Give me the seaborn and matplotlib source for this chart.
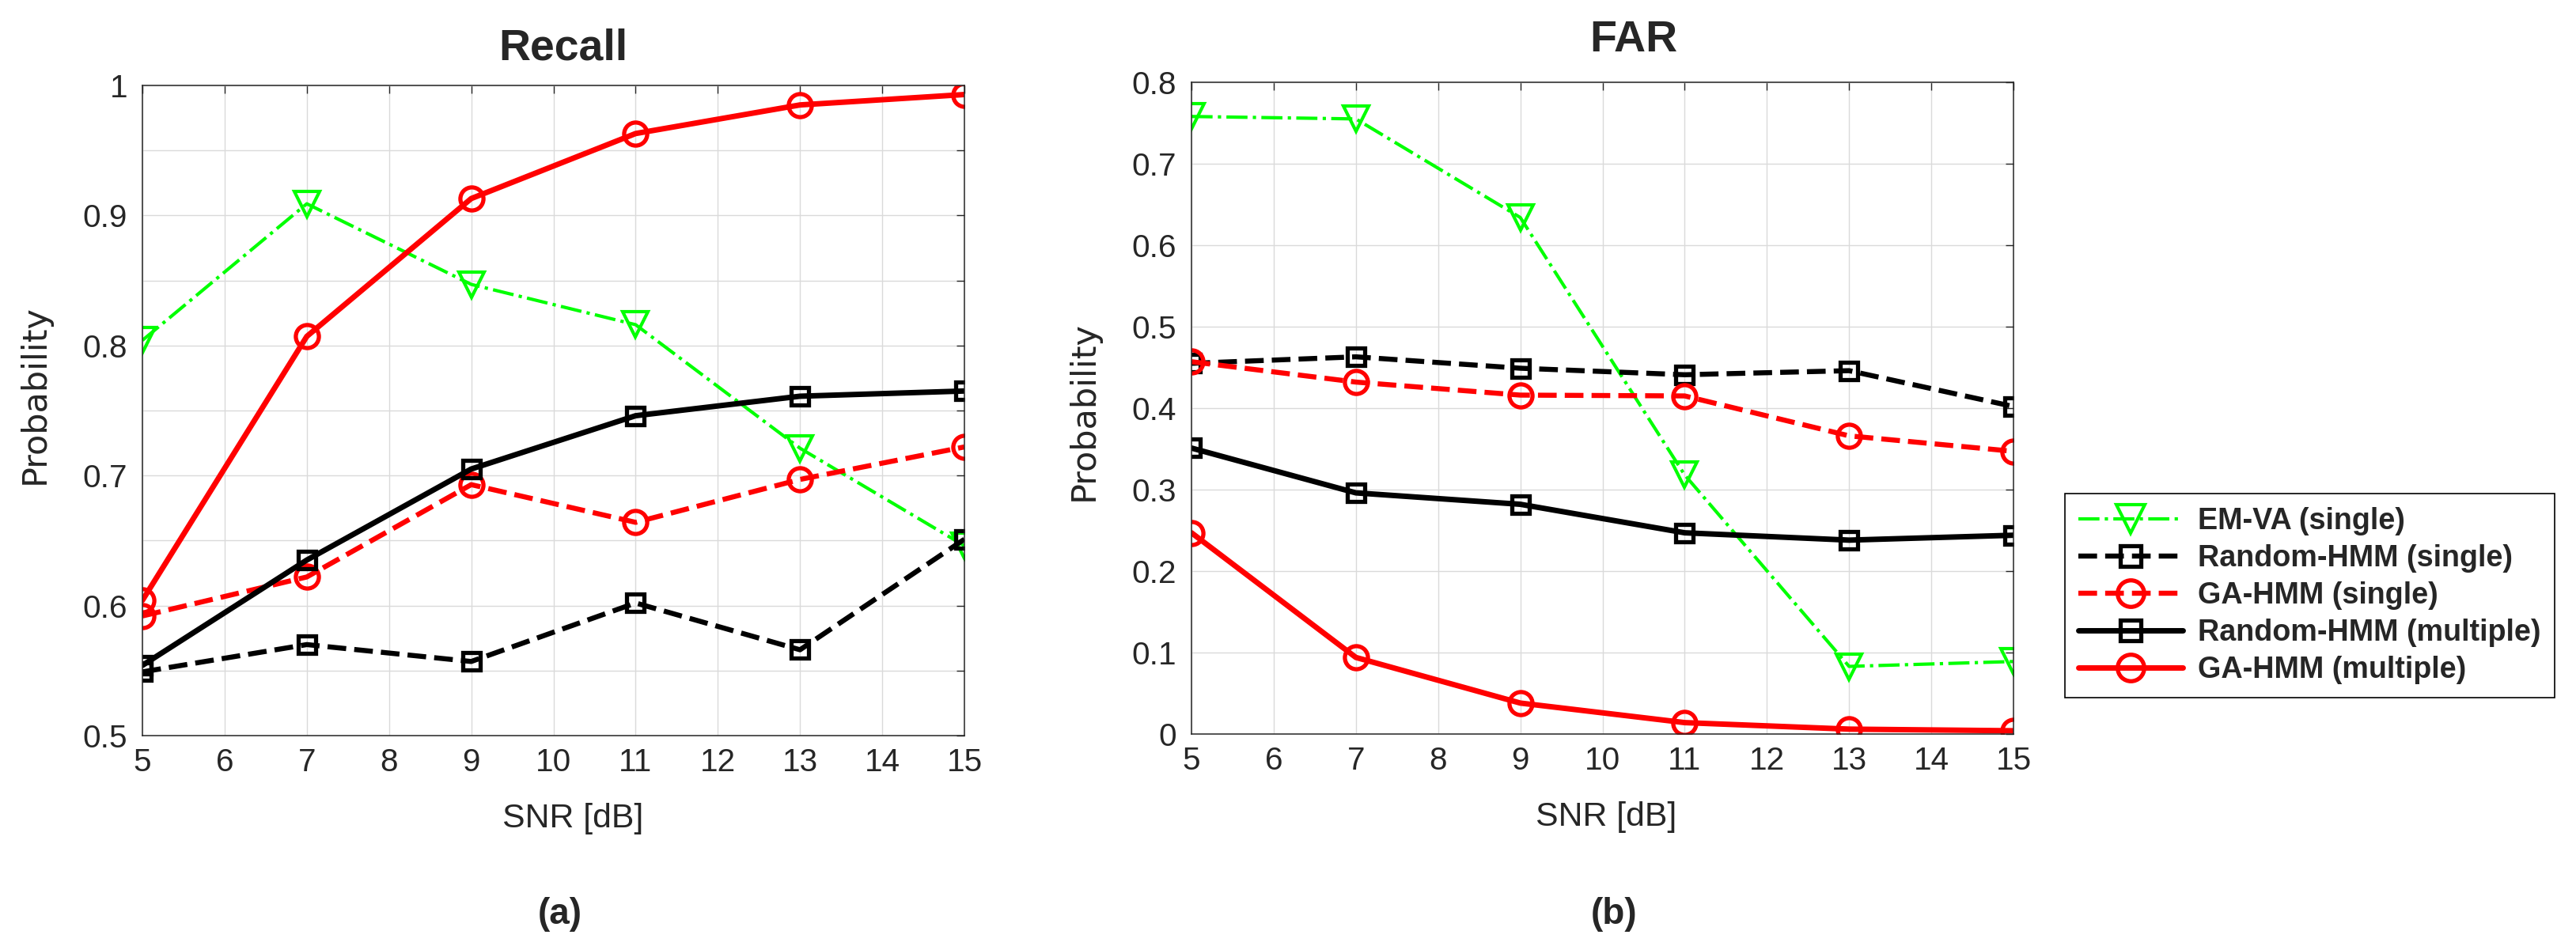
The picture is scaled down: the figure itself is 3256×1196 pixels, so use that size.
import numpy as np
import matplotlib
matplotlib.use("Agg")
import matplotlib.pyplot as plt
import seaborn as sns

# data
snr = [5, 7, 9, 11, 13, 15]

labels = ["EM-VA (single)", "Random-HMM (single)", "GA-HMM (single)",
          "Random-HMM (multiple)", "GA-HMM (multiple)"]

recall_emva = [0.804, 0.909, 0.847, 0.816, 0.721, 0.646]
recall_rand_single = [0.549, 0.570, 0.557, 0.602, 0.566, 0.651]
recall_ga_single = [0.592, 0.622, 0.693, 0.664, 0.697, 0.722]
recall_rand_multi = [0.554, 0.635, 0.705, 0.746, 0.761, 0.765]
recall_ga_multi = [0.604, 0.807, 0.913, 0.963, 0.985, 0.993]

far_emva = [0.758, 0.755, 0.634, 0.318, 0.083, 0.089]
far_rand_single = [0.455, 0.463, 0.449, 0.441, 0.446, 0.402]
far_ga_single = [0.457, 0.432, 0.416, 0.415, 0.366, 0.347]
far_rand_multi = [0.351, 0.296, 0.282, 0.247, 0.238, 0.244]
far_ga_multi = [0.247, 0.094, 0.038, 0.014, 0.006, 0.004]

recall = [recall_emva, recall_rand_single, recall_ga_single, recall_rand_multi, recall_ga_multi]
far = [far_emva, far_rand_single, far_ga_single, far_rand_multi, far_ga_multi]

# line styles per series
styles = [
    dict(color="#00ff00", linestyle="-.", linewidth=1.5, marker="v", markersize=11.5, markeredgewidth=1.5),
    dict(color="black", linestyle="--", linewidth=2.3, marker="s", markersize=8, markeredgewidth=1.9),
    dict(color="red", linestyle="--", linewidth=2.3, marker="o", markersize=10.5, markeredgewidth=1.9),
    dict(color="black", linestyle="-", linewidth=2.5, marker="s", markersize=8, markeredgewidth=1.9),
    dict(color="red", linestyle="-", linewidth=2.5, marker="o", markersize=10.5, markeredgewidth=1.9),
]

sns.set_style("white")
tick_font = ["Liberation Sans Narrow", "Liberation Sans"]
plt.rcParams["font.family"] = tick_font

W, H = 3256, 1196
fig = plt.figure(figsize=(W / 200, H / 200), dpi=200)

def px(x, y):
    return x / W, 1 - y / H

ax1 = fig.add_axes([180 / W, 1 - 930 / H, 1039 / W, 822 / H])
ax2 = fig.add_axes([1506 / W, 1 - 928 / H, 1039 / W, 824 / H])

for ax, data in [(ax1, recall), (ax2, far)]:
    for vals, st, lab in zip(data, styles, labels):
        sns.lineplot(x=snr, y=vals, ax=ax, errorbar=None, markerfacecolor="none",
                     markeredgecolor=st["color"], label=lab, legend=False, **st)
    ax.set_xlim(5, 15)
    ax.set_xticks(range(5, 16))
    ax.set_xticklabels([str(v) for v in range(5, 16)])
    ax.grid(True, color="#dadada", linewidth=0.5)
    ax.set_axisbelow(True)
    ax.tick_params(direction="in", top=True, right=True, length=3.7, width=0.5,
                   labelsize=14.6, color="#262626")
    ax.tick_params(axis="x", pad=5.5)
    ax.tick_params(axis="y", pad=6.8)
    for sp in ax.spines.values():
        sp.set_color("#262626")
        sp.set_linewidth(0.55)
        sp.set_visible(True)
    ax.set_xlabel("")
    ax.set_ylabel("")

ax1.set_ylim(0.5, 1)
yt1 = np.round(np.arange(0.5, 1.0001, 0.05), 2)
ax1.set_yticks(yt1)
ax1.set_yticklabels(["0.5", "", "0.6", "", "0.7", "", "0.8", "", "0.9", "", "1"])

ax2.set_ylim(0, 0.8)
yt2 = np.round(np.arange(0, 0.8001, 0.1), 1)
ax2.set_yticks(yt2)
ax2.set_yticklabels(["0", "0.1", "0.2", "0.3", "0.4", "0.5", "0.6", "0.7", "0.8"])

# titles, axis labels and panel tags
fig.text(*px(712, 76), "Recall", ha="center", va="baseline", fontsize=20, fontweight="bold")
fig.text(*px(2065, 65), "FAR", ha="center", va="baseline", fontsize=20, fontweight="bold")
fig.text(*px(724, 1046), "SNR [dB]", ha="center", va="baseline", fontsize=15.4)
fig.text(*px(2030, 1044), "SNR [dB]", ha="center", va="baseline", fontsize=15.4)
fig.text(*px(44, 499), "Probability", ha="center", va="center", rotation=90,
         fontsize=15.5, family="DejaVu Sans")
fig.text(*px(1370, 520), "Probability", ha="center", va="center", rotation=90,
         fontsize=15.5, family="DejaVu Sans")
fig.text(*px(708, 1168), "(a)", ha="center", va="baseline", fontsize=16.5, fontweight="bold")
fig.text(*px(2040, 1168), "(b)", ha="center", va="baseline", fontsize=16.5, fontweight="bold")

handles = ax2.get_lines()[:5]
leg = fig.legend(handles, labels, loc="upper left", bbox_to_anchor=px(2610, 624),
                 borderaxespad=0, fancybox=False, framealpha=1, edgecolor="black",
                 handlelength=3.5, handletextpad=0.5, borderpad=0.45, labelspacing=0.29,
                 markerscale=1.15,
                 prop={"family": "Liberation Sans", "weight": "bold", "size": 13.6})
leg.get_frame().set_linewidth(0.6)

fig.savefig("out.png", dpi=200)
